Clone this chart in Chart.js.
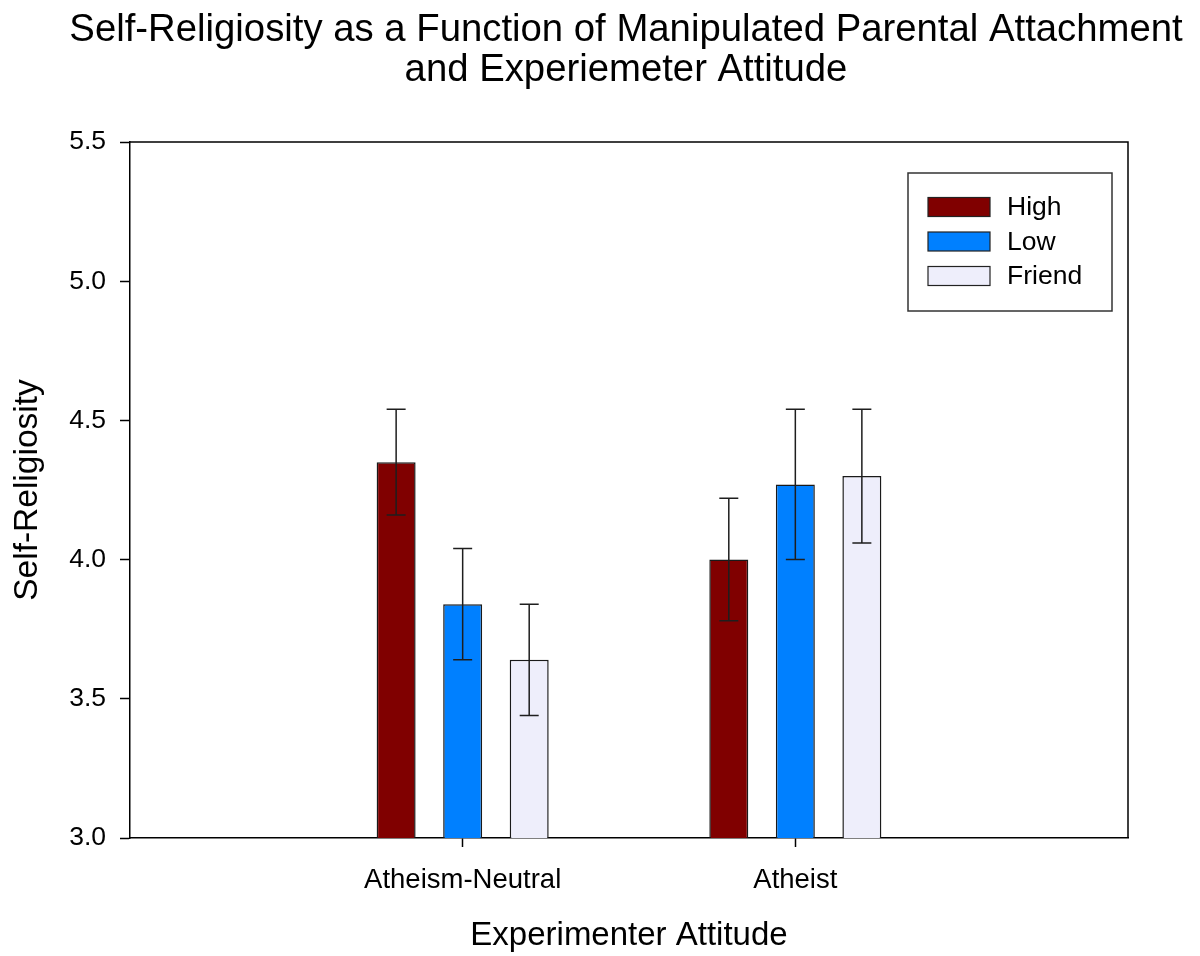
<!DOCTYPE html>
<html>
<head>
<meta charset="utf-8">
<script src="https://cdn.jsdelivr.net/npm/chart.js@4"></script>
<style>
  html, body { margin: 0; padding: 0; background: #ffffff; }
  #wrap { width: 1200px; height: 956px; }
</style>
</head>
<body>
<div id="wrap"><canvas id="c" width="1200" height="956"></canvas></div>
<script>
// Experimenter attitude categories (blank slots pad the axis on both sides)
const categories = ['', 'Atheism-Neutral', 'Atheist', ''];

// Mean self-religiosity per parental-attachment condition
const highMeans   = [null, 4.35, 4.00, null];
const lowMeans    = [null, 3.84, 4.27, null];
const friendMeans = [null, 3.64, 4.30, null];

// Error bar half-lengths
const highErr   = [null, 0.19, 0.22, null];
const lowErr    = [null, 0.20, 0.27, null];
const friendErr = [null, 0.20, 0.24, null];

const yTicks = [3.0, 3.5, 4.0, 4.5, 5.0, 5.5];

const seriesNames  = ['High', 'Low', 'Friend'];
const seriesColors = ['#800000', '#0080ff', '#eeeefb'];

const titleLines = ['Self-Religiosity as a Function of Manipulated Parental Attachment',
                    'and Experiemeter Attitude'];

const FONT = "'Liberation Sans', Arial, Helvetica, sans-serif";

// Two-line title centred over the plot area
const plotTitle = {
  id: 'plotTitle',
  afterDraw(chart) {
    const ctx = chart.ctx;
    const a = chart.chartArea;
    const cx = (a.left + a.right) / 2 - 3;
    ctx.save();
    ctx.fillStyle = '#000';
    ctx.font = '38.3px ' + FONT;
    ctx.textAlign = 'center';
    ctx.textBaseline = 'alphabetic';
    titleLines.forEach((t, i) => ctx.fillText(t, cx, 41 + i * 40));
    ctx.restore();
  }
};

// Error bars with caps, drawn from the bar scale
const errorBars = {
  id: 'errorBars',
  afterDatasetsDraw(chart) {
    const ctx = chart.ctx;
    const y = chart.scales.y;
    ctx.save();
    ctx.strokeStyle = '#1e1e1e';
    ctx.lineWidth = 1.5;
    chart.data.datasets.forEach((ds, di) => {
      const meta = chart.getDatasetMeta(di);
      meta.data.forEach((bar, i) => {
        const v = ds.data[i];
        const e = ds.errors[i];
        if (v == null || e == null) return;
        const x = bar.x;
        const top = y.getPixelForValue(v + e);
        const bot = y.getPixelForValue(v - e);
        ctx.beginPath();
        ctx.moveTo(x, top); ctx.lineTo(x, bot);
        ctx.moveTo(x - 9.5, top); ctx.lineTo(x + 9.5, top);
        ctx.moveTo(x - 9.5, bot); ctx.lineTo(x + 9.5, bot);
        ctx.stroke();
      });
    });
    ctx.restore();
  }
};

// Closes the plot frame on the top and right sides
const frame = {
  id: 'frame',
  afterDraw(chart) {
    const a = chart.chartArea;
    const ctx = chart.ctx;
    ctx.save();
    ctx.strokeStyle = '#000';
    ctx.lineWidth = 1.5;
    ctx.beginPath();
    ctx.moveTo(a.left, a.top);
    ctx.lineTo(a.right, a.top);
    ctx.lineTo(a.right, a.bottom);
    ctx.stroke();
    ctx.restore();
  }
};

// Boxed legend inside the top-right of the plot
const boxLegend = {
  id: 'boxLegend',
  afterDraw(chart) {
    const ctx = chart.ctx;
    const a = chart.chartArea;
    const bx = a.right - 220, by = a.top + 31, bw = 204, bh = 138;
    ctx.save();
    ctx.fillStyle = '#fff';
    ctx.fillRect(bx, by, bw, bh);
    ctx.strokeStyle = '#333';
    ctx.lineWidth = 1.5;
    ctx.strokeRect(bx, by, bw, bh);
    ctx.font = '26.5px ' + FONT;
    ctx.textBaseline = 'middle';
    ctx.textAlign = 'left';
    chart.data.datasets.forEach((ds, i) => {
      const cy = by + 34 + i * 34.5;
      ctx.fillStyle = ds.backgroundColor;
      ctx.fillRect(bx + 20, cy - 9.5, 62, 19);
      ctx.strokeStyle = '#222';
      ctx.lineWidth = 1.2;
      ctx.strokeRect(bx + 20, cy - 9.5, 62, 19);
      ctx.fillStyle = '#000';
      ctx.fillText(ds.label, bx + 99, cy + 1);
    });
    ctx.restore();
  }
};

const makeSet = (i, data, errors) => ({
  label: seriesNames[i],
  data: data,
  errors: errors,
  backgroundColor: seriesColors[i],
  borderColor: '#1a1a1a',
  borderWidth: 1.5,
  borderSkipped: 'start',
  categoryPercentage: 0.6,
  barPercentage: 0.586
});

new Chart(document.getElementById('c'), {
  type: 'bar',
  data: {
    labels: categories,
    datasets: [
      makeSet(0, highMeans, highErr),
      makeSet(1, lowMeans, lowErr),
      makeSet(2, friendMeans, friendErr)
    ]
  },
  options: {
    responsive: false,
    animation: false,
    devicePixelRatio: 1,
    layout: { padding: { left: 0, right: 72, top: 142, bottom: 0 } },
    plugins: {
      legend: { display: false },
      tooltip: { enabled: false },
      title: { display: false }
    },
    scales: {
      x: {
        offset: false,
        afterFit: (s) => { s.height = 118; },
        grid: {
          display: true,
          drawOnChartArea: false,
          drawTicks: true,
          tickLength: 9,
          tickWidth: 1.5,
          tickColor: (c) => (categories[c.index] ? '#000' : 'rgba(0,0,0,0)'),
          offset: false
        },
        border: { display: true, color: '#000', width: 1.5 },
        ticks: {
          color: '#000',
          padding: 17,
          autoSkip: false,
          maxRotation: 0,
          font: { family: FONT, size: 27.5 }
        },
        title: {
          display: true,
          text: 'Experimenter Attitude',
          color: '#000',
          font: { family: FONT, size: 33 },
          padding: { top: 0, bottom: 0 }
        }
      },
      y: {
        min: 3.0,
        max: 5.5,
        afterFit: (s) => { s.width = 130; },
        afterBuildTicks: (s) => { s.ticks = yTicks.map(v => ({ value: v })); },
        grid: {
          display: true,
          drawOnChartArea: false,
          drawTicks: true,
          tickLength: 10,
          tickWidth: 1.5,
          tickColor: '#000'
        },
        border: { display: true, color: '#000', width: 1.5 },
        ticks: {
          color: '#000',
          padding: 14,
          font: { family: FONT, size: 26.5 },
          callback: (v) => Number(v).toFixed(1)
        },
        title: {
          display: true,
          text: 'Self-Religiosity',
          color: '#000',
          font: { family: FONT, size: 33.5 },
          padding: { top: 8, bottom: 0 }
        }
      }
    }
  },
  plugins: [errorBars, frame, boxLegend, plotTitle]
});
</script>
</body>
</html>
